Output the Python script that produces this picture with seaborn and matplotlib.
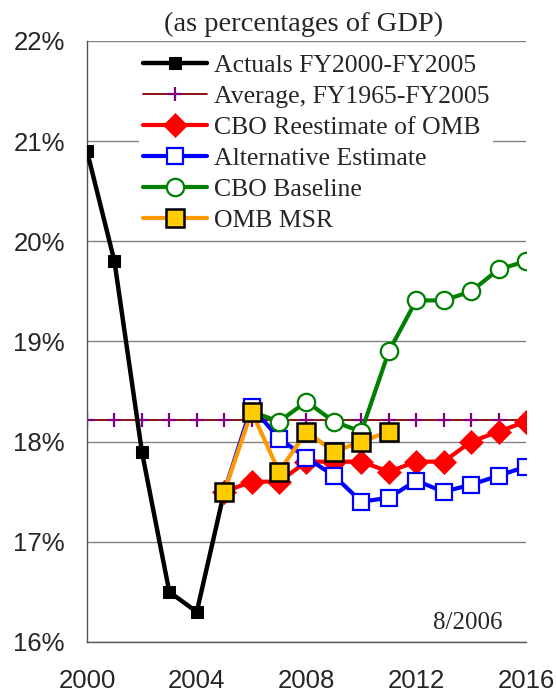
import matplotlib
matplotlib.use("Agg")
import matplotlib.pyplot as plt
import matplotlib.ticker as mticker
import numpy as np
import pandas as pd
import seaborn as sns

# data (% of GDP)
actual_years = [2000, 2001, 2002, 2003, 2004, 2005]
actual_vals = [20.9, 19.8, 17.9, 16.5, 16.3, 17.5]

avg_years = list(range(2000, 2017))
avg_vals = [18.22] * len(avg_years)

proj_years = list(range(2005, 2017))
cbo_reest = [17.5, 17.6, 17.6, 17.8, 17.8, 17.8, 17.7, 17.8, 17.8, 18.0, 18.1, 18.2]
alt_est = [17.5, 18.35, 18.03, 17.84, 17.66, 17.4, 17.44, 17.61, 17.5, 17.57, 17.66, 17.75]

base_years = list(range(2006, 2017))
cbo_base = [18.3, 18.2, 18.4, 18.2, 18.1, 18.9, 19.41, 19.41, 19.5, 19.72, 19.8]

omb_years = list(range(2005, 2012))
omb_msr = [17.5, 18.3, 17.7, 18.1, 17.9, 18.0, 18.1]

sns.set_style("white")
plt.rcParams["font.family"] = ["Liberation Serif", "DejaVu Serif"]

fig = plt.figure(figsize=(5.56, 6.92), dpi=100)
ax = fig.add_axes([0.1565, 0.0723, 0.7895, 0.8685])

def draw(x, y, label, **kw):
    df = pd.DataFrame({"year": x, "val": y})
    sns.lineplot(data=df, x="year", y="val", ax=ax, label=label, **kw)

draw(actual_years, actual_vals, "Actuals FY2000-FY2005", color="black", lw=3.2,
     marker="s", markersize=8, markerfacecolor="black", markeredgecolor="black", zorder=3)
draw(avg_years, avg_vals, "Average, FY1965-FY2005", color="#800000", lw=1.3,
     marker="+", markersize=10, markeredgecolor="#800080", markeredgewidth=1.6, zorder=2)
draw(proj_years, cbo_reest, "CBO Reestimate of OMB", color="#ff0000", lw=3,
     marker="D", markersize=12, markerfacecolor="#ff0000", markeredgecolor="#ff0000",
     markeredgewidth=0.5, zorder=4)
draw(proj_years, alt_est, "Alternative Estimate", color="#0000ff", lw=3,
     marker="s", markersize=12, markerfacecolor="white", markeredgecolor="#0000ff",
     markeredgewidth=1.6, zorder=5)
draw(base_years, cbo_base, "CBO Baseline", color="#008000", lw=3,
     marker="o", markersize=12.5, markerfacecolor="white", markeredgecolor="#008000",
     markeredgewidth=1.6, zorder=6)
draw(omb_years, omb_msr, "OMB MSR", color="#ff9900", lw=3,
     marker="s", markersize=12.5, markerfacecolor="#ffcc00", markeredgecolor="black",
     markeredgewidth=1.8, zorder=7)

ax.set_xlim(2000, 2016)
ax.set_ylim(16, 22)
ax.set_xlabel("")
ax.set_ylabel("")

ax.xaxis.set_major_locator(mticker.MultipleLocator(4))
ax.xaxis.set_minor_locator(mticker.MultipleLocator(1))
ax.yaxis.set_major_locator(mticker.MultipleLocator(1))
ax.yaxis.set_minor_locator(mticker.MultipleLocator(0.5))
ax.yaxis.set_major_formatter(mticker.FuncFormatter(lambda v, p: f"{v:.0f}%"))

ax.tick_params(axis="both", which="both", direction="out", color="#333333")
ax.tick_params(axis="x", which="both", length=6.5, width=1, pad=13)
ax.tick_params(axis="y", which="major", length=6, width=1.2, pad=10)
ax.tick_params(axis="y", which="minor", length=8.5, width=1, direction="inout")
for lab in ax.get_xticklabels() + ax.get_yticklabels():
    lab.set_family(["Liberation Sans", "DejaVu Sans"])
    lab.set_fontsize(18.5)

ax.grid(axis="y", which="major", color="#808080", lw=1)
ax.set_axisbelow(True)
for s in ["top", "right"]:
    ax.spines[s].set_visible(False)
for s in ["left", "bottom"]:
    ax.spines[s].set_color("#555555")
    ax.spines[s].set_linewidth(1)

leg = ax.legend(loc="upper left", bbox_to_anchor=(0.118, 0.984), fontsize=18.5,
                frameon=True, framealpha=1, facecolor="white", edgecolor="white",
                handlelength=2.5, handletextpad=0.27, labelspacing=0.31,
                borderpad=0.15, borderaxespad=0)
leg.get_frame().set_linewidth(0)
leg.set_zorder(10)

fig.text(0.546, 0.964, "(as percentages of GDP)", ha="center", va="center", fontsize=20.5)
ax.text(0.868, 0.032, "8/2006", transform=ax.transAxes, ha="center", va="center", fontsize=18)

fig.savefig("out.png", dpi=100)
